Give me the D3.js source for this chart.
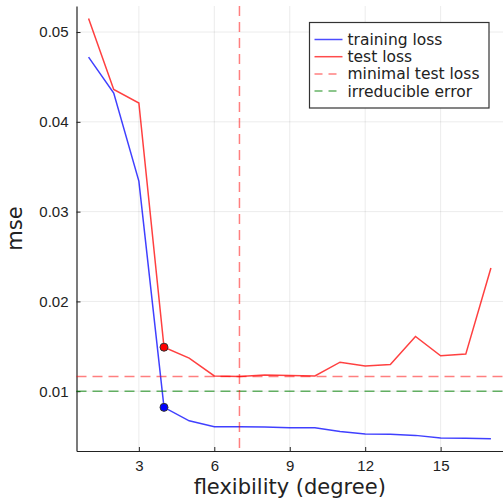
<!DOCTYPE html>
<html>
<head>
<meta charset="utf-8">
<script src="https://cdn.jsdelivr.net/npm/d3@7"></script>
<style>
  body { margin: 0; background: #fff; }
  svg { font-family: "DejaVu Sans", sans-serif; }
</style>
</head>
<body>
<div id="chart"></div>
<script>
const degrees = [1, 2, 3, 4, 5, 6, 7, 8, 9, 10, 11, 12, 13, 14, 15, 16, 17];
const trainingLoss = [0.0472, 0.0432, 0.0334, 0.0082, 0.0067, 0.00605, 0.00605, 0.00602, 0.00594, 0.00593,
  0.0055, 0.00523, 0.0052, 0.00508, 0.00479, 0.00477, 0.0047];
const testLoss = [0.0515, 0.0436, 0.0421, 0.0149, 0.01368, 0.0117, 0.01163, 0.0118, 0.01175, 0.0117,
  0.01323, 0.01282, 0.01297, 0.01609, 0.01394, 0.01413, 0.02373];
const bestDegree = 7;
const minimalTestLoss = 0.01163;
const irreducibleError = 0.01;
const markedDegree = 4;
const xTicks = [3, 6, 9, 12, 15];
const yTicks = [0.01, 0.02, 0.03, 0.04, 0.05];
const legendItems = [
  { label: 'training loss', color: '#0000ff', dash: null, opacity: 0.7 },
  { label: 'test loss', color: '#ff0000', dash: null, opacity: 0.7 },
  { label: 'minimal test loss', color: '#ff0000', dash: '8,6', opacity: 0.5 },
  { label: 'irreducible error', color: '#008000', dash: '8,6', opacity: 0.6 }
];

const width = 503;
const height = 500;
const plot = { left: 76.5, right: 503, top: 6, bottom: 451 };

const svg = d3.select('#chart').append('svg')
  .attr('width', width)
  .attr('height', height);

const x = d3.scaleLinear().domain([0.52, 17.48]).range([plot.left, plot.right]);
const y = d3.scaleLinear().domain([0.00334, 0.0529]).range([plot.bottom, plot.top]);

// grid
svg.append('g').selectAll('line').data(xTicks).enter().append('line')
  .attr('x1', d => x(d)).attr('x2', d => x(d))
  .attr('y1', plot.top).attr('y2', plot.bottom)
  .attr('stroke', '#000').attr('stroke-opacity', 0.08);
svg.append('g').selectAll('line').data(yTicks).enter().append('line')
  .attr('x1', plot.left).attr('x2', plot.right)
  .attr('y1', d => y(d)).attr('y2', d => y(d))
  .attr('stroke', '#000').attr('stroke-opacity', 0.08);

// axes
svg.append('g')
  .attr('transform', `translate(0,${plot.bottom})`)
  .call(d3.axisBottom(x).tickValues(xTicks).tickSizeInner(-4).tickSizeOuter(0).tickPadding(9))
  .call(g => g.select('.domain').attr('stroke', '#222').attr('stroke-width', 1.2))
  .call(g => g.selectAll('.tick line').attr('stroke', '#222'))
  .call(g => g.selectAll('text').attr('font-size', 15).attr('fill', '#222'));

svg.append('g')
  .attr('transform', `translate(${plot.left},0)`)
  .call(d3.axisLeft(y).tickValues(yTicks).tickFormat(d3.format('.2f')).tickSizeInner(-4).tickSizeOuter(0).tickPadding(8))
  .call(g => g.select('.domain').attr('stroke', '#222').attr('stroke-width', 1.2))
  .call(g => g.selectAll('.tick line').attr('stroke', '#222'))
  .call(g => g.selectAll('text').attr('font-size', 15).attr('fill', '#222'));

// lines
const line = d3.line().x((d, i) => x(degrees[i])).y(d => y(d));

svg.append('path').datum(trainingLoss)
  .attr('d', line).attr('fill', 'none')
  .attr('stroke', '#0000ff').attr('stroke-opacity', 0.75).attr('stroke-width', 1.5);

svg.append('path').datum(testLoss)
  .attr('d', line).attr('fill', 'none')
  .attr('stroke', '#ff0000').attr('stroke-opacity', 0.75).attr('stroke-width', 1.5);

svg.append('line')
  .attr('x1', plot.left).attr('x2', plot.right)
  .attr('y1', y(minimalTestLoss)).attr('y2', y(minimalTestLoss))
  .attr('stroke', '#ff0000').attr('stroke-opacity', 0.5)
  .attr('stroke-width', 1.5).attr('stroke-dasharray', '10,6');

svg.append('line')
  .attr('x1', plot.left).attr('x2', plot.right)
  .attr('y1', y(irreducibleError)).attr('y2', y(irreducibleError))
  .attr('stroke', '#008000').attr('stroke-opacity', 0.6)
  .attr('stroke-width', 1.5).attr('stroke-dasharray', '10,6');

svg.append('line')
  .attr('x1', x(bestDegree)).attr('x2', x(bestDegree))
  .attr('y1', plot.top).attr('y2', plot.bottom)
  .attr('stroke', '#ff0000').attr('stroke-opacity', 0.5)
  .attr('stroke-width', 1.5).attr('stroke-dasharray', '10,6');

// marked points
const idx = degrees.indexOf(markedDegree);
svg.append('circle')
  .attr('cx', x(markedDegree)).attr('cy', y(testLoss[idx])).attr('r', 4)
  .attr('fill', '#ff0000').attr('stroke', '#333').attr('stroke-width', 1);
svg.append('circle')
  .attr('cx', x(markedDegree)).attr('cy', y(trainingLoss[idx])).attr('r', 4)
  .attr('fill', '#0000ff').attr('stroke', '#333').attr('stroke-width', 1);

// axis labels
svg.append('text')
  .attr('x', (plot.left + plot.right) / 2).attr('y', 494)
  .attr('text-anchor', 'middle').attr('font-size', 21).attr('fill', '#222')
  .text('flexibility (degree)');

svg.append('text')
  .attr('transform', `translate(22,${(plot.top + plot.bottom) / 2}) rotate(-90)`)
  .attr('text-anchor', 'middle').attr('font-size', 21).attr('fill', '#222')
  .text('mse');

// legend
const legend = svg.append('g').attr('transform', 'translate(309.5,22.5)');
legend.append('rect')
  .attr('width', 179.5).attr('height', 85.5)
  .attr('fill', '#fff').attr('stroke', '#333').attr('stroke-width', 1.2);

const rows = legend.selectAll('.row').data(legendItems).enter().append('g')
  .attr('class', 'row')
  .attr('transform', (d, i) => `translate(0,${17 + i * 17.2})`);

rows.append('line')
  .attr('x1', 5).attr('x2', 33)
  .attr('stroke', d => d.color).attr('stroke-opacity', d => d.opacity)
  .attr('stroke-width', 1.5)
  .attr('stroke-dasharray', d => d.dash);

rows.append('text')
  .attr('x', 38).attr('dy', '0.35em')
  .attr('font-size', 15.5).attr('fill', '#222')
  .text(d => d.label);
</script>
</body>
</html>
